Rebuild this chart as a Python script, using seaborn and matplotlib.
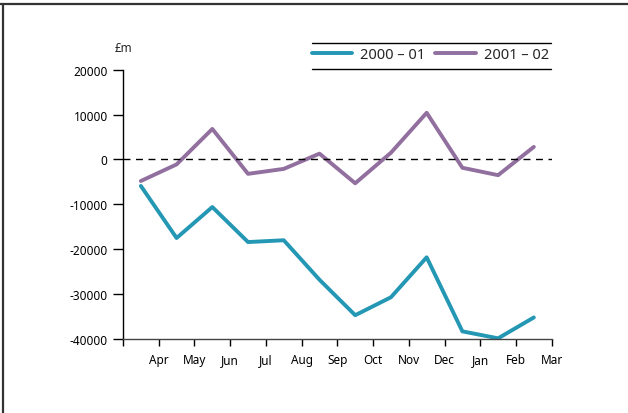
import numpy as np
import pandas as pd
import seaborn as sns
import matplotlib
matplotlib.use("Agg")
import matplotlib.pyplot as plt
from matplotlib.lines import Line2D

# monthly values (GBP m), financial year Apr..Mar
months = ['Apr', 'May', 'Jun', 'Jul', 'Aug', 'Sep',
          'Oct', 'Nov', 'Dec', 'Jan', 'Feb', 'Mar']
fy_2000_01 = [-5900, -17500, -10600, -18400, -18000, -26800,
              -34700, -30700, -21800, -38300, -39850, -35200]
fy_2001_02 = [-4800, -1100, 6800, -3200, -2100, 1300,
              -5300, 1500, 10400, -1850, -3500, 2800]
series_names = ['2000 – 01', '2001 – 02']
colors = ['#2397b3', '#916f9e']

yticks = [-40000, -30000, -20000, -10000, 0, 10000, 20000]

df = pd.DataFrame({
    'pos': np.tile(np.arange(len(months)) + 0.5, 2),
    'value': fy_2000_01 + fy_2001_02,
    'series': np.repeat(series_names, len(months)),
})

sns.set_style("ticks")
plt.rcParams['font.family'] = ['Noto Sans', 'DejaVu Sans']

fig = plt.figure(figsize=(6.28, 4.14), dpi=100)
ax = fig.add_axes([123 / 628, 74 / 414, 428.7 / 628, 269.3 / 414])

sns.lineplot(data=df, x='pos', y='value', hue='series', palette=colors,
             linewidth=2.8, legend=False, ax=ax)

ax.axhline(0, color='black', lw=1, ls=(0, (5, 4)))

ax.set_xlim(0, 12)
ax.set_ylim(-40000, 20000)
ax.set_xticks(range(13))
ax.set_xticklabels([''] + months)
ax.set_yticks(yticks)
ax.set_yticklabels([str(v) for v in yticks])
ax.set_xlabel('')
ax.set_ylabel('')
ax.tick_params(axis='y', length=7, width=1, pad=4, labelsize=8.5, colors='black')
ax.tick_params(axis='x', length=5, width=1, pad=5, labelsize=8.5, colors='black')
sns.despine(ax=ax)
ax.spines['left'].set_color('black')
ax.spines['bottom'].set_color('#444444')
ax.spines['left'].set_linewidth(1)
ax.spines['bottom'].set_linewidth(1)

fig.text(123 / 628, 1 - 49 / 414, '£m', ha='center', va='center', fontsize=8.5)

# legend between two rules
handles = [Line2D([0], [0], color=c, lw=2.8) for c in colors]
fig.legend(handles, series_names, loc='center left', ncol=2, frameon=False,
           bbox_to_anchor=(312 / 628, 1 - 56 / 414), fontsize=10.5,
           handlelength=2.75, handletextpad=0.55, columnspacing=0.7,
           borderaxespad=0, borderpad=0)
for yy in (43.5, 69.5):
    fig.add_artist(Line2D([312 / 628, 551 / 628], [1 - yy / 414] * 2,
                          color='black', lw=1))

# outer frame (top and left)
fig.add_artist(Line2D([0, 1], [1 - 5 / 414] * 2, color='#333333', lw=1.6))
fig.add_artist(Line2D([3.5 / 628] * 2, [0, 1 - 5 / 414], color='#333333', lw=1.6))

fig.savefig('out.png', dpi=100, facecolor='white')
